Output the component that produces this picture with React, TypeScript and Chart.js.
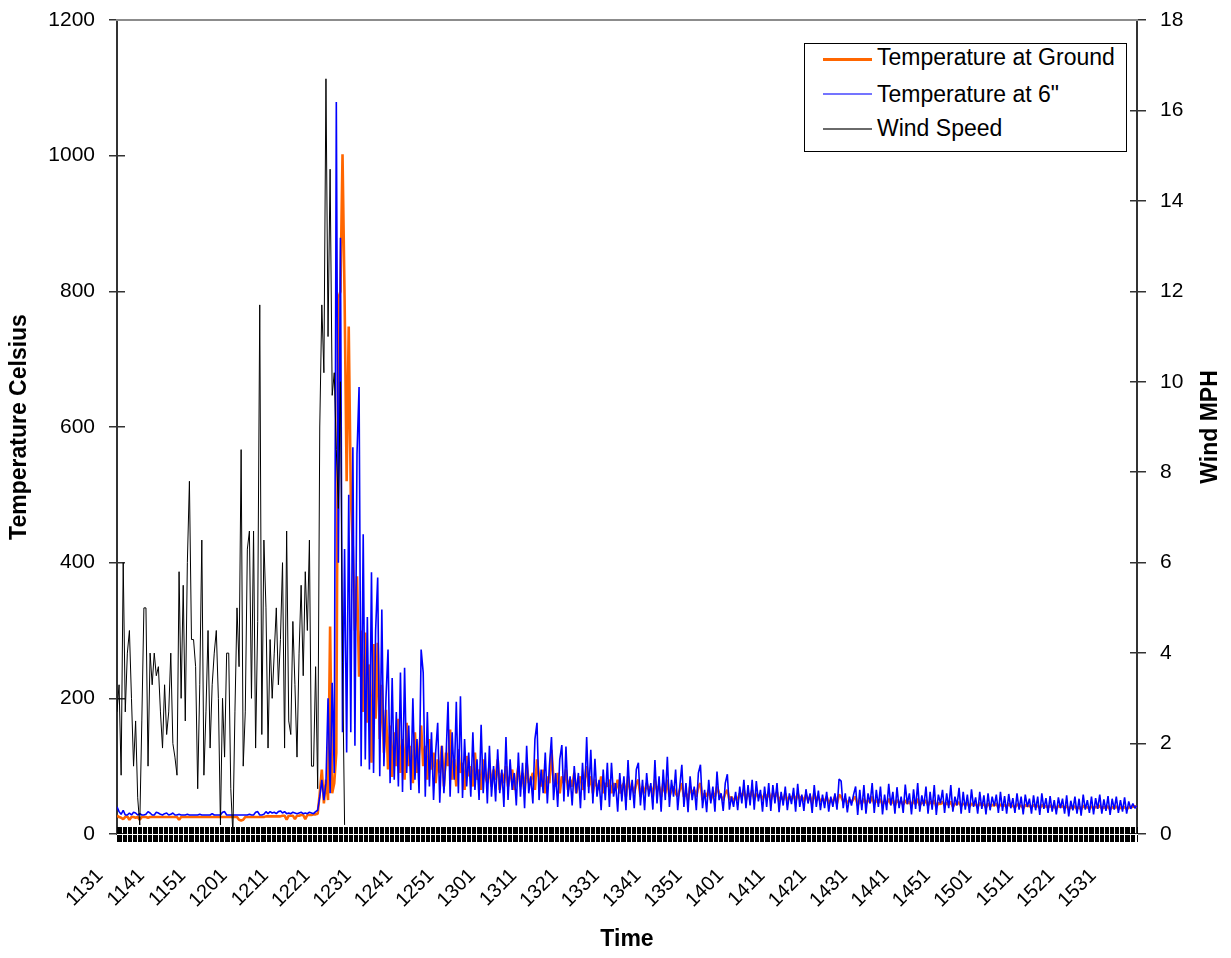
import React, { useEffect, useRef } from 'react';
import { Chart, registerables } from 'chart.js';

Chart.register(...registerables);

// ---------------- DATA ----------------
// one sample every 30 seconds, starting at 11:31
const TIME_STEP_MIN = 0.5;
const X_MAX_MIN = 246.5;
const TIME_LABELS = [
  '1131', '1141', '1151', '1201', '1211', '1221', '1231', '1241', '1251', '1301',
  '1311', '1321', '1331', '1341', '1351', '1401', '1411', '1421', '1431', '1441',
  '1451', '1501', '1511', '1521', '1531',
];
const SERIES_LABELS = ['Temperature at Ground', 'Temperature at 6"', 'Wind Speed'];
const AXIS_TITLES = { left: 'Temperature Celsius', right: 'Wind MPH', bottom: 'Time' };

const TEMP_GROUND = [
  27, 25, 24, 22, 25, 26, 21, 25, 25, 24,
  25, 21, 25, 25, 25, 24, 25, 25, 25, 25,
  25, 25, 25, 25, 25, 25, 25, 25, 25, 25,
  21, 25, 25, 25, 25, 25, 25, 25, 25, 25,
  25, 25, 25, 25, 25, 25, 25, 25, 25, 25,
  25, 25, 25, 25, 25, 25, 25, 25, 25, 21,
  20, 21, 25, 25, 25, 25, 25, 25, 25, 25,
  25, 25, 26, 26, 26, 26, 26, 26, 26, 26,
  27, 27, 21, 27, 27, 27, 22, 27, 27, 28,
  28, 22, 28, 28, 28, 29, 29,
  30, 60, 95, 45, 80, 50, 306, 60, 75, 120, 790, 800, 1002, 790,
  520, 748, 500, 420, 300, 380, 232, 300, 180, 297,
  164, 250, 105, 280, 170, 282, 140, 220, 120, 183,
  95, 160, 84, 150, 100, 170, 90, 140, 80, 164,
  100, 130, 75, 150, 90, 120, 160, 100, 130, 80,
  140, 95, 120, 75, 110, 90, 130, 70, 120, 100,
  154, 80, 110, 70, 125, 90, 105, 65, 115, 85,
  100, 70, 120, 80, 95, 65, 110, 85, 75, 100,
  70, 95, 80, 110, 65, 90, 75, 100, 70, 85,
  95, 65, 80, 100, 70, 90, 60, 105, 75, 80,
  90, 65, 110, 85, 70, 95, 60, 85, 75, 124,
  80, 70, 90, 60, 85, 75, 95, 65, 80, 70,
  90, 60, 75, 85, 65, 80, 100, 70, 85, 60,
  80, 70, 65, 85, 60, 75, 70, 80, 60, 75,
  65, 80, 60, 70, 75, 55, 85, 65, 70, 60,
  75, 80, 55, 70, 60, 75, 65, 70, 55, 80,
  65, 70, 55, 75, 60, 80, 55, 65, 70, 60,
  55, 65, 75, 55, 60, 50, 70, 60, 65, 55,
  70, 75, 50, 60, 55, 65, 50, 60, 55, 70,
  60, 55, 50, 60, 65, 50, 55, 48, 55, 50,
  60, 55, 65, 50, 60, 55, 65, 50, 60, 55,
  58, 50, 60, 52, 62, 50, 60, 55, 62, 48,
  55, 50, 60, 48, 55, 52, 58, 48, 60, 52,
  55, 48, 58, 50, 55, 45, 60, 50, 55, 48,
  52, 48, 55, 45, 50, 48, 55, 45, 58, 55,
  48, 52, 45, 50, 47, 52, 55, 42, 50, 45,
  52, 45, 50, 47, 55, 44, 50, 46, 52, 43,
  48, 45, 52, 44, 50, 42, 50, 46, 48, 43,
  50, 45, 48, 42, 50, 44, 52, 42, 47, 45,
  50, 42, 48, 44, 50, 40, 46, 44, 48, 42,
  46, 43, 48, 40, 45, 44, 47, 41, 45, 43,
  46, 40, 45, 43, 44, 40, 46, 42, 44, 39,
  45, 41, 43, 42, 45, 39, 44, 41, 43, 40,
  45, 41, 42, 39, 44, 41, 42, 38, 43, 41,
  42, 39, 43, 40, 42, 38, 43, 40, 41, 39,
  42, 39, 41, 37, 42, 40, 41, 38, 42, 36,
  40, 38, 41, 37, 40, 36, 42, 39, 40, 37,
  41, 38, 40, 39, 42, 37, 40, 38, 41, 36,
  40, 38, 41, 37, 39, 38, 40, 37, 39, 40,
  40, 41, 40,
];

const TEMP_6IN = [
  40, 33, 29, 35, 28, 28, 31, 28, 32, 31,
  28, 30, 28, 28, 29, 33, 31, 28, 28, 32,
  31, 29, 28, 30, 31, 28, 29, 31, 28, 28,
  29, 28, 28, 28, 29, 28, 28, 28, 28, 28,
  29, 28, 28, 28, 28, 28, 30, 28, 28, 28,
  28, 32, 33, 28, 28, 28, 28, 28, 28, 28,
  28, 28, 28, 28, 29, 28, 28, 32, 33, 28,
  28, 29, 33, 30, 33, 31, 32, 30, 33, 34,
  31, 33, 30, 31, 30, 32, 31, 30, 31, 32,
  30, 31, 30, 32, 31, 30, 33,
  35, 55, 80, 50, 75, 200, 60, 223, 90, 1079, 400, 879, 150, 420,
  120, 500, 150, 570, 130, 560, 659, 100, 442, 110,
  320, 95, 386, 90, 300, 378, 85, 331, 100, 200,
  272, 75, 230, 80, 180, 70, 238, 62, 245, 90,
  160, 65, 200, 80, 140, 60, 272, 238, 55, 180,
  70, 150, 50, 120, 164, 46, 130, 60, 110, 195,
  55, 150, 80, 195, 60, 203, 53, 140, 70, 120,
  55, 150, 65, 110, 50, 161, 60, 120, 45, 130,
  55, 100, 48, 125, 60, 95, 40, 143, 50, 110,
  65, 90, 42, 120, 55, 105, 38, 130, 60, 85,
  45, 140, 164, 50, 95, 60, 120, 45, 100, 143,
  50, 90, 40, 110, 131, 48, 129, 55, 85, 42,
  100, 60, 90, 38, 105, 50, 143, 60, 124, 45,
  111, 55, 80, 35, 95, 50, 105, 40, 105, 55,
  75, 33, 90, 48, 85, 35, 109, 50, 80, 38,
  95, 105, 42, 80, 35, 90, 55, 75, 36, 109,
  45, 85, 33, 95, 50, 114, 40, 80, 55, 95,
  35, 70, 102, 40, 75, 32, 85, 50, 70, 35,
  90, 102, 38, 65, 32, 80, 45, 70, 33, 92,
  50, 60, 34, 75, 88, 36, 55, 40, 62, 35,
  70, 45, 80, 38, 72, 42, 80, 36, 78, 48,
  65, 33, 70, 40, 75, 34, 72, 45, 75, 32,
  62, 42, 70, 35, 60, 44, 68, 33, 74, 40,
  58, 34, 66, 45, 60, 31, 72, 40, 64, 35,
  58, 38, 62, 33, 55, 40, 60, 36, 81, 78,
  38, 60, 32, 55, 42, 58, 70, 28, 65, 35,
  72, 30, 60, 45, 75, 31, 65, 40, 70, 29,
  58, 35, 74, 42, 62, 30, 69, 38, 55, 31,
  73, 44, 60, 29, 66, 37, 75, 33, 57, 41,
  70, 30, 62, 36, 72, 28, 58, 45, 65, 31,
  60, 38, 72, 33, 55, 42, 68, 30, 62, 36,
  58, 31, 66, 40, 54, 30, 62, 37, 57, 29,
  60, 35, 55, 41, 58, 31, 62, 34, 56, 30,
  59, 38, 53, 31, 60, 36, 55, 29, 58, 40,
  52, 30, 57, 35, 55, 28, 60, 37, 53, 31,
  56, 33, 50, 29, 54, 38, 52, 30, 57, 26,
  49, 35, 55, 30, 52, 27, 58, 36, 50, 31,
  55, 29, 53, 37, 58, 30, 51, 34, 56, 28,
  52, 36, 55, 31, 50, 33, 54, 30, 48, 37,
  45, 38, 42,
];

const WIND_MPH = [
  2.7, 3.3, 1.3, 6.0, 2.7, 4.0, 4.5, 3.0, 1.5, 2.5,
  0.8, 0.2, 2.5, 5.0, 5.0, 1.5, 4.0, 3.3, 4.0, 3.5,
  3.7, 2.7, 1.9, 3.3, 2.2, 2.7, 4.0, 2.0, 1.7, 1.3,
  5.8, 3.0, 5.5, 2.5, 6.0, 7.8, 4.3, 4.3, 3.7, 1.0,
  3.3, 6.5, 1.3, 2.7, 4.5, 1.9, 3.3, 4.0, 4.5, 3.0,
  0.2, 3.0, 1.7, 4.0, 4.0, 1.0, 0.0, 2.7, 5.0, 3.7,
  8.5, 1.5, 2.7, 6.3, 6.7, 3.0, 6.7, 1.9, 4.7, 11.7,
  2.2, 6.5, 5.0, 1.9, 4.3, 3.0, 4.0, 5.0, 3.3, 4.3,
  6.0, 1.9, 6.7, 2.5, 2.2, 4.7, 3.3, 1.7, 4.0, 5.5,
  3.5, 5.8, 4.5, 6.5, 1.5, 1.5, 3.7, 1.0, 9.0, 11.7,
  10.2, 16.7, 11.0, 14.7, 9.7, 10.2, 8.5, 7.2, 10.0, 3.8, 0.2,
];

// ---------------- LAYOUT ----------------
const W = 1231;
const H = 958;
const PLOT_LEFT = 117;
const PLOT_RIGHT = 1137;
const PLOT_TOP = 20;
const PLOT_BOTTOM = 834;
const FONT = '"Liberation Sans", Arial, Helvetica, sans-serif';
const PX_PER_MIN = (PLOT_RIGHT - PLOT_LEFT) / X_MAX_MIN;
const TEMP_PER_PX = 1200 / (PLOT_BOTTOM - PLOT_TOP);

const toPoints = (arr: number[]) => arr.map((v, i) => ({ x: i * TIME_STEP_MIN, y: v }));

const LEGEND_ROWS = [
  { label: SERIES_LABELS[0], color: '#FF6600', thick: 3, lineY: 59, textTop: 44 },
  { label: SERIES_LABELS[1], color: '#7474ff', thick: 2, lineY: 94, textTop: 80.5 },
  { label: SERIES_LABELS[2], color: '#6a6a6a', thick: 2, lineY: 128.5, textTop: 115 },
];

export default function App() {
  const ref = useRef<HTMLCanvasElement | null>(null);

  useEffect(() => {
    if (!ref.current) return;
    Chart.defaults.font.family = FONT;
    const tickFont = { size: 20, family: FONT };
    const yTickFont = { size: 21, family: FONT };
    const titleFont = { size: 23, weight: 'bold' as const, family: FONT };
    const plainNumber = (v: any) => String(v);
    const fixVertical = (w: number) => (s: any) => {
      s.width = w;
      s.paddingTop = 0;
      s.paddingBottom = 0;
    };

    const chart = new Chart(ref.current, {
      type: 'line',
      data: {
        datasets: [
          {
            label: SERIES_LABELS[0],
            data: toPoints(TEMP_GROUND),
            xAxisID: 'x',
            yAxisID: 'y',
            borderColor: '#FF6600',
            backgroundColor: '#FF6600',
            borderWidth: 2.6,
            pointRadius: 0,
            tension: 0,
            fill: false,
            borderJoinStyle: 'bevel',
            order: 3,
          },
          {
            label: SERIES_LABELS[1],
            data: toPoints(TEMP_6IN),
            xAxisID: 'x',
            yAxisID: 'y',
            borderColor: '#0000FF',
            backgroundColor: '#0000FF',
            borderWidth: 1.6,
            pointRadius: 0,
            tension: 0,
            fill: false,
            borderJoinStyle: 'bevel',
            order: 2,
          },
          {
            label: SERIES_LABELS[2],
            data: toPoints(WIND_MPH),
            xAxisID: 'x',
            yAxisID: 'y1',
            borderColor: '#000000',
            backgroundColor: '#000000',
            borderWidth: 1,
            pointRadius: 0,
            tension: 0,
            fill: false,
            borderJoinStyle: 'bevel',
            order: 1,
          },
        ],
      },
      options: {
        responsive: false,
        animation: false,
        devicePixelRatio: 1,
        layout: { padding: { top: PLOT_TOP, left: 0, right: 0, bottom: 0 } },
        plugins: {
          legend: { display: false },
          tooltip: { enabled: false },
          title: { display: false },
        },
        scales: {
          x: {
            type: 'linear',
            position: 'bottom',
            min: 0,
            max: X_MAX_MIN,
            afterFit: (s: any) => { s.height = H - PLOT_BOTTOM; },
            grid: { display: false, drawTicks: false },
            border: { display: true, color: '#ffffff', width: 1, z: 2 },
            ticks: {
              stepSize: 10,
              includeBounds: false,
              autoSkip: false,
              minRotation: 45,
              maxRotation: 45,
              padding: 30,
              labelOffset: -17,
              color: '#000',
              font: tickFont,
              callback: (v: any) => {
                const k = Number(v) / 10;
                return Number.isInteger(k) ? (TIME_LABELS[k] ?? '') : '';
              },
            },
            title: {
              display: true,
              text: AXIS_TITLES.bottom,
              color: '#000',
              font: titleFont,
              padding: { top: 0, bottom: 5 },
            },
          },
          y: {
            type: 'linear',
            position: 'left',
            min: 0,
            max: 1200,
            afterFit: fixVertical(PLOT_LEFT),
            grid: { display: false, drawTicks: false },
            border: { display: true, color: '#333333', width: 2 },
            ticks: { stepSize: 200, padding: 22, color: '#000', font: yTickFont, callback: plainNumber },
            title: {
              display: true,
              text: AXIS_TITLES.left,
              color: '#000',
              font: titleFont,
              padding: { top: 6, bottom: 0 },
            },
          },
          y1: {
            type: 'linear',
            position: 'right',
            min: 0,
            max: 18,
            afterFit: fixVertical(W - PLOT_RIGHT),
            grid: { display: false, drawTicks: false },
            border: { display: true, color: '#333333', width: 2 },
            ticks: { stepSize: 2, padding: 23, color: '#000', font: yTickFont, callback: plainNumber },
          },
          // dense category tick band across the bottom axis
          xBand: {
            type: 'linear',
            axis: 'x',
            position: { y: 7 * TEMP_PER_PX },
            min: 0,
            max: X_MAX_MIN,
            ticks: { display: false, stepSize: 0.3 },
            grid: {
              display: true,
              drawOnChartArea: false,
              drawTicks: true,
              tickLength: 15,
              color: '#000000',
              lineWidth: 1,
              z: 1,
            },
            border: { display: false },
          },
          // plot-area top border
          xTop: {
            type: 'linear',
            axis: 'x',
            position: { y: 1200 },
            min: 0,
            max: X_MAX_MIN,
            ticks: { display: false },
            grid: { display: false },
            border: { display: true, color: '#8c8c8c', width: 2 },
          },
          // crossing tick marks on the left axis
          yTickL: {
            type: 'linear',
            axis: 'y',
            position: { x: 8 / PX_PER_MIN },
            min: 0,
            max: 1200,
            ticks: { display: false, stepSize: 200 },
            grid: { display: true, drawOnChartArea: false, drawTicks: true, tickLength: 16, color: '#333333', lineWidth: 1.5 },
            border: { display: false },
          },
          // crossing tick marks on the right axis
          yTickR: {
            type: 'linear',
            axis: 'y',
            position: { x: X_MAX_MIN + 9 / PX_PER_MIN },
            min: 0,
            max: 18,
            ticks: { display: false, stepSize: 2 },
            grid: { display: true, drawOnChartArea: false, drawTicks: true, tickLength: 16, color: '#333333', lineWidth: 1.5 },
            border: { display: false },
          },
        } as any,
      },
    } as any);

    return () => { chart.destroy(); };
  }, []);

  return (
    <div style={{ position: 'fixed', left: 0, top: 0, width: W, height: H, background: '#fff', overflow: 'hidden' }}>
      <canvas ref={ref} width={W} height={H} style={{ position: 'absolute', left: 0, top: 0, width: W, height: H }} />
      <div
        style={{
          position: 'absolute',
          left: 804,
          top: 43,
          width: 323,
          height: 109,
          boxSizing: 'border-box',
          border: '1px solid #000',
          background: '#fff',
        }}
      />
      {LEGEND_ROWS.map((r) => (
        <React.Fragment key={r.label}>
          <div
            style={{
              position: 'absolute',
              left: 823,
              top: r.lineY - r.thick / 2,
              width: 49,
              height: r.thick,
              background: r.color,
            }}
          />
          <div
            style={{
              position: 'absolute',
              left: 877,
              top: r.textTop,
              fontFamily: FONT,
              fontSize: 23,
              lineHeight: '26px',
              color: '#000',
              whiteSpace: 'nowrap',
            }}
          >
            {r.label}
          </div>
        </React.Fragment>
      ))}
      <div
        style={{
          position: 'absolute',
          left: 1208.5 - 100,
          top: 427 - 13,
          width: 200,
          height: 26,
          lineHeight: '26px',
          textAlign: 'center',
          fontFamily: FONT,
          fontSize: 23,
          fontWeight: 'bold',
          color: '#000',
          transform: 'rotate(-90deg)',
          whiteSpace: 'nowrap',
        }}
      >
        {AXIS_TITLES.right}
      </div>
    </div>
  );
}
